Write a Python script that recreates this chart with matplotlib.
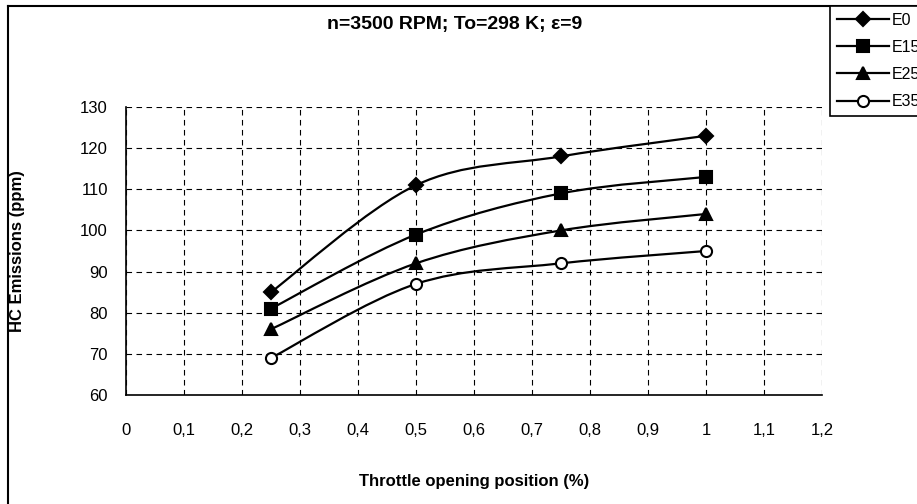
import matplotlib
matplotlib.use("Agg")
import matplotlib.pyplot as plt
from matplotlib.path import Path
from matplotlib.patches import PathPatch
from matplotlib.lines import Line2D
import numpy as np

plt.rcParams['font.family'] = ['Liberation Sans', 'DejaVu Sans']

throttle = [0.25, 0.5, 0.75, 1.0]
e0 = [85, 111, 118, 123]
e15 = [81, 99, 109, 113]
e25 = [76, 92, 100, 104]
e35 = [69, 87, 92, 95]
series_names = ["E0", "E15", "E25", "E35"]
xticks = [0, 0.1, 0.2, 0.3, 0.4, 0.5, 0.6, 0.7, 0.8, 0.9, 1.0, 1.1, 1.2]
yticks = [60, 70, 80, 90, 100, 110, 120, 130]

W, H = 917, 504
fig = plt.figure(figsize=(W / 100, H / 100), dpi=100)
ax_left, ax_right, ax_top, ax_bot = 126, 822, 107, 395
ax = fig.add_axes([ax_left / W, 1 - ax_bot / H, (ax_right - ax_left) / W, (ax_bot - ax_top) / H])


def smooth_path(xs, ys):
    pts = np.column_stack([xs, ys]).astype(float)
    n = len(pts)
    verts = [pts[0]]
    codes = [Path.MOVETO]
    for i in range(n - 1):
        p0 = pts[i - 1] if i > 0 else pts[i]
        p1 = pts[i]
        p2 = pts[i + 1]
        p3 = pts[i + 2] if i + 2 < n else pts[i + 1]
        c1 = p1 + (p2 - p0) / 6.0
        c2 = p2 - (p3 - p1) / 6.0
        verts += [c1, c2, p2]
        codes += [Path.CURVE4] * 3
    return Path(verts, codes)


styles = [
    dict(marker='D', ms=7.5, mfc='black'),
    dict(marker='s', ms=9, mfc='black'),
    dict(marker='^', ms=9, mfc='black'),
    dict(marker='o', ms=8, mfc='white'),
]
handles = []
for name, ys, st in zip(series_names, [e0, e15, e25, e35], styles):
    patch = PathPatch(smooth_path(throttle, ys), fill=False, edgecolor='black', lw=1.6, zorder=3)
    ax.add_patch(patch)
    ax.plot(throttle, ys, linestyle='none', marker=st['marker'], ms=st['ms'],
            mfc=st['mfc'], mec='black', mew=1.5, zorder=4)
    handles.append(Line2D([], [], color='black', lw=1.6, marker=st['marker'],
                          ms=st['ms'], mfc=st['mfc'], mec='black', mew=1.5))

ax.set_xlim(0, 1.2)
ax.set_ylim(60, 130)
ax.set_xticks(xticks)
ax.set_xticklabels([("%g" % t).replace('.', ',') for t in xticks], fontsize=12)
ax.set_yticks(yticks)
ax.set_yticklabels([str(t) for t in yticks], fontsize=12)
ax.tick_params(axis='x', length=0, pad=20)
ax.tick_params(axis='y', length=0, pad=13)
ax.grid(True, color='black', linestyle=(0, (5, 4)), linewidth=0.8)
ax.set_axisbelow(True)
for s in ['top', 'right']:
    ax.spines[s].set_visible(False)
for s in ['left', 'bottom']:
    ax.spines[s].set_linewidth(1.2)

ax.set_xlabel("Throttle opening position (%)", fontsize=12, fontweight='bold', labelpad=26)
fig.text(18 / W, 1 - ((ax_top + ax_bot) / 2) / H, "HC Emissions (ppm)", fontsize=12,
         fontweight='bold', rotation=90, ha='center', va='center')
fig.text(455 / W, 1 - 25 / H, "n=3500 RPM; To=298 K; ε=9", fontsize=14,
         fontweight='bold', ha='center', va='center')

# figure border (left and top visible)
fig.add_artist(Line2D([8 / W, 8 / W], [0, 1 - 6 / H], transform=fig.transFigure, color='black', lw=1.5))
fig.add_artist(Line2D([8 / W, 1], [1 - 6 / H, 1 - 6 / H], transform=fig.transFigure, color='black', lw=1.5))

leg = fig.legend(handles, series_names, loc='upper left',
                 bbox_to_anchor=(830 / W, 1 - 6 / H), bbox_transform=fig.transFigure,
                 frameon=True, fancybox=False, edgecolor='black', framealpha=1,
                 fontsize=11.5, handlelength=3.3, labelspacing=0.76,
                 borderaxespad=0, borderpad=0.42, handletextpad=0.15)
leg.get_frame().set_linewidth(1.2)

fig.savefig("out.png", dpi=100)
